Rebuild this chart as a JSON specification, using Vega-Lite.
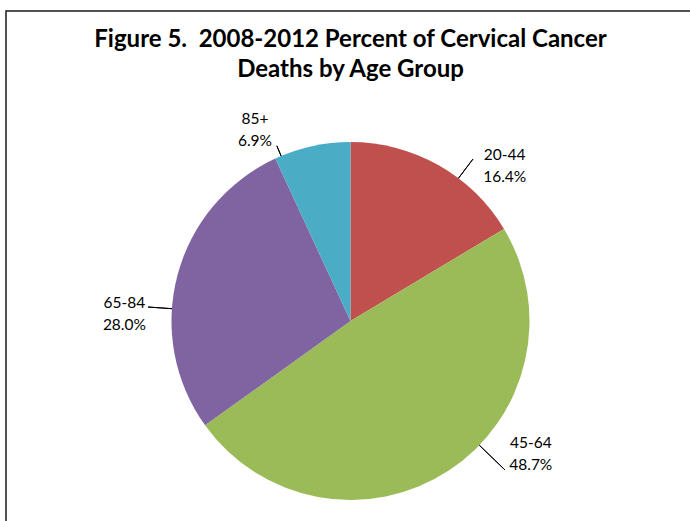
{
  "$schema": "https://vega.github.io/schema/vega-lite/v6.json",
  "autosize": {"type": "none"},
  "width": 689,
  "height": 620,
  "padding": {"left": 6, "top": 11, "right": -5, "bottom": -110},
  "background": "white",
  "view": {"stroke": "#1a1a1a", "strokeWidth": 1.5},
  "title": {
    "text": ["Figure 5.\u00a0 2008-2012 Percent of Cervical Cancer", "Deaths by Age Group"],
    "font": "Lato",
    "fontSize": 24,
    "fontWeight": "bold",
    "color": "#000000",
    "anchor": "middle",
    "frame": "group",
    "baseline": "alphabetic",
    "lineHeight": 30,
    "offset": -89.5
  },
  "data": {
    "values": [
      {"age": "20-44", "share": 16.4},
      {"age": "45-64", "share": 48.7},
      {"age": "65-84", "share": 28.0},
      {"age": "85+", "share": 6.9}
    ]
  },
  "transform": [
    {"stack": "share", "groupby": [], "sort": [{"field": "age", "order": "ascending"}], "as": ["s0", "s1"]},
    {"calculate": "(datum.s0 + datum.s1) / 2", "as": "mid"},
    {"calculate": "datum.age + '\\n' + format(datum.share, '.1f') + '%'", "as": "label"}
  ],
  "layer": [
    {
      "mark": {"type": "arc", "outerRadius": 179, "stroke": null},
      "encoding": {
        "theta": {"field": "s0", "type": "quantitative", "scale": {"domain": [0, 100]}},
        "theta2": {"field": "s1"},
        "color": {
          "field": "age",
          "type": "nominal",
          "scale": {"domain": ["20-44", "45-64", "65-84", "85+"], "range": ["#C0504D", "#9BBB59", "#8064A2", "#4BACC6"]},
          "legend": null
        }
      }
    },
    {
      "transform": [{"filter": "datum.age === '20-44'"}],
      "mark": {"type": "arc", "radius": 203, "radius2": 179, "thetaOffset": 0.1323, "theta2Offset": 0.1323, "fill": null, "stroke": "#000000", "strokeWidth": 1},
      "encoding": {"theta": {"field": "mid", "type": "quantitative"}, "theta2": {"field": "mid"}}
    },
    {
      "transform": [{"filter": "datum.age === '45-64'"}],
      "mark": {"type": "arc", "radius": 214.6, "radius2": 179, "thetaOffset": -0.2224, "theta2Offset": -0.2224, "fill": null, "stroke": "#000000", "strokeWidth": 1},
      "encoding": {"theta": {"field": "mid", "type": "quantitative"}, "theta2": {"field": "mid"}}
    },
    {
      "transform": [{"filter": "datum.age === '65-84'"}],
      "mark": {"type": "arc", "radius": 203, "radius2": 179, "thetaOffset": -0.1887, "theta2Offset": -0.1887, "fill": null, "stroke": "#000000", "strokeWidth": 1},
      "encoding": {"theta": {"field": "mid", "type": "quantitative"}, "theta2": {"field": "mid"}}
    },
    {
      "transform": [{"filter": "datum.age === '85+'"}],
      "mark": {"type": "arc", "radius": 190, "radius2": 179, "thetaOffset": -0.1812, "theta2Offset": -0.1812, "fill": null, "stroke": "#000000", "strokeWidth": 1},
      "encoding": {"theta": {"field": "mid", "type": "quantitative"}, "theta2": {"field": "mid"}}
    },
    {
      "transform": [{"filter": "datum.age === '20-44'"}],
      "mark": {"type": "text", "radius": 179, "dx": 66, "dy": -5, "font": "Lato", "fontSize": 15.5, "align": "center", "baseline": "alphabetic", "lineBreak": "\n", "lineHeight": 22, "color": "#000000"},
      "encoding": {"theta": {"field": "mid", "type": "quantitative"}, "text": {"field": "label"}}
    },
    {
      "transform": [{"filter": "datum.age === '45-64'"}],
      "mark": {"type": "text", "radius": 179, "dx": 82, "dy": -23, "font": "Lato", "fontSize": 15.5, "align": "center", "baseline": "alphabetic", "lineBreak": "\n", "lineHeight": 22, "color": "#000000"},
      "encoding": {"theta": {"field": "mid", "type": "quantitative"}, "text": {"field": "label"}}
    },
    {
      "transform": [{"filter": "datum.age === '65-84'"}],
      "mark": {"type": "text", "radius": 179, "dx": -53, "dy": 33, "font": "Lato", "fontSize": 15.5, "align": "center", "baseline": "alphabetic", "lineBreak": "\n", "lineHeight": 22, "color": "#000000"},
      "encoding": {"theta": {"field": "mid", "type": "quantitative"}, "text": {"field": "label"}}
    },
    {
      "transform": [{"filter": "datum.age === '85+'"}],
      "mark": {"type": "text", "radius": 179, "dx": -57, "dy": -22, "font": "Lato", "fontSize": 15.5, "align": "center", "baseline": "alphabetic", "lineBreak": "\n", "lineHeight": 22, "color": "#000000"},
      "encoding": {"theta": {"field": "mid", "type": "quantitative"}, "text": {"field": "label"}}
    }
  ]
}
